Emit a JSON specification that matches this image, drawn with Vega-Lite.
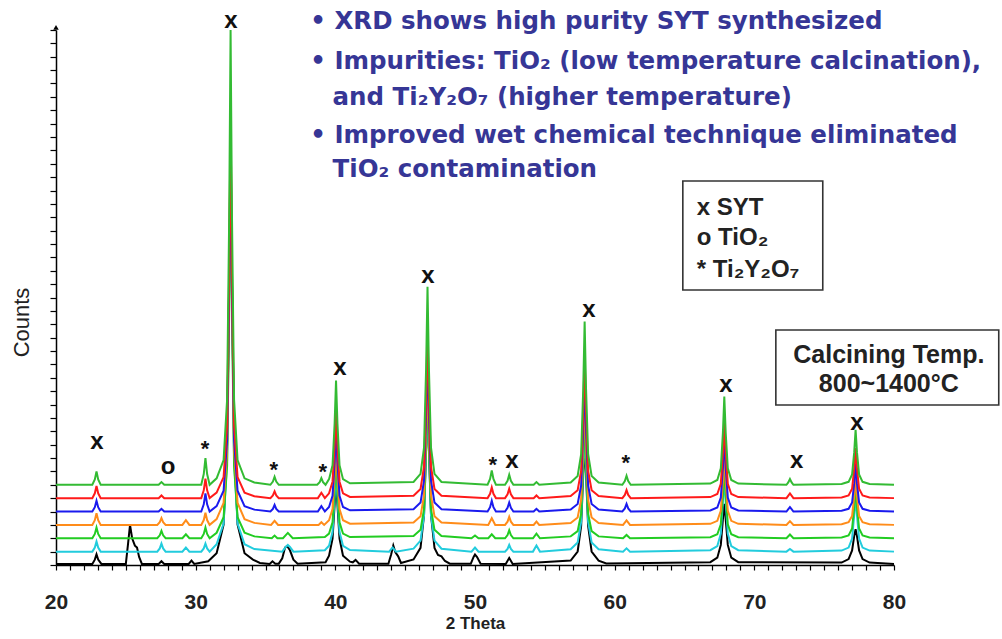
{
"$schema":"https://vega.github.io/schema/vega-lite/v6.json",
"width":838,"height":535,
"autosize":{"type":"none"},
"padding":{"left":56,"top":30,"right":108,"bottom":74},
"background":"white",
"config":{"view":{"stroke":null},"font":"Liberation Sans"},
"datasets":{
"xrd":[
{"T":800,"x":20,"y":0.08},{"T":800,"x":22.6,"y":0.08},{"T":800,"x":22.78,"y":0.4},{"T":800,"x":22.9,"y":0.8},{"T":800,"x":23.02,"y":0.4},{"T":800,"x":23.25,"y":0.08},
{"T":800,"x":25.0,"y":0.08},{"T":800,"x":25.15,"y":1.5},{"T":800,"x":25.3,"y":3.0},{"T":800,"x":25.45,"y":2.0},{"T":800,"x":25.65,"y":1.45},{"T":800,"x":25.8,"y":1.3},{"T":800,"x":25.95,"y":0.6},{"T":800,"x":26.15,"y":0.08},
{"T":800,"x":27.35,"y":0.08},{"T":800,"x":27.55,"y":0.28},{"T":800,"x":27.75,"y":0.08},
{"T":800,"x":29.5,"y":0.08},{"T":800,"x":29.7,"y":0.33},{"T":800,"x":29.9,"y":0.08},
{"T":800,"x":30.9,"y":0.28},{"T":800,"x":31.5,"y":0.88},{"T":800,"x":32.0,"y":3.02},{"T":800,"x":32.25,"y":9.05},{"T":800,"x":32.4,"y":21.18},{"T":800,"x":32.5,"y":28.48},{"T":800,"x":32.6,"y":21.18},{"T":800,"x":32.75,"y":9.05},{"T":800,"x":33.0,"y":3.02},{"T":800,"x":33.5,"y":0.88},{"T":800,"x":34.1,"y":0.4},{"T":800,"x":34.6,"y":0.15},
{"T":800,"x":35.3,"y":0.08},{"T":800,"x":35.5,"y":0.28},{"T":800,"x":35.7,"y":0.1},
{"T":800,"x":35.95,"y":0.1},{"T":800,"x":36.2,"y":0.5},{"T":800,"x":36.4,"y":1.3},{"T":800,"x":36.55,"y":1.43},{"T":800,"x":36.75,"y":1.1},{"T":800,"x":37.0,"y":0.4},{"T":800,"x":37.3,"y":0.1},
{"T":800,"x":39.3,"y":0.2},{"T":800,"x":39.55,"y":0.7},{"T":800,"x":39.8,"y":1.98},{"T":800,"x":39.95,"y":4.54},{"T":800,"x":40.05,"y":6.08},{"T":800,"x":40.15,"y":4.54},{"T":800,"x":40.3,"y":1.98},{"T":800,"x":40.55,"y":0.7},{"T":800,"x":41.05,"y":0.25},
{"T":800,"x":41.25,"y":0.2},{"T":800,"x":41.45,"y":0.38},{"T":800,"x":41.7,"y":0.1},
{"T":800,"x":43.8,"y":0.1},{"T":800,"x":44.0,"y":0.8},{"T":800,"x":44.15,"y":1.45},{"T":800,"x":44.3,"y":0.95},{"T":800,"x":44.5,"y":0.65},{"T":800,"x":44.7,"y":0.15},
{"T":800,"x":45.6,"y":0.41},{"T":800,"x":46.1,"y":1.28},{"T":800,"x":46.35,"y":3.75},{"T":800,"x":46.5,"y":8.7},{"T":800,"x":46.6,"y":11.68},{"T":800,"x":46.7,"y":8.7},{"T":800,"x":46.85,"y":3.75},{"T":800,"x":47.1,"y":1.28},{"T":800,"x":47.35,"y":0.75},{"T":800,"x":47.6,"y":0.65},{"T":800,"x":47.85,"y":0.3},{"T":800,"x":48.2,"y":0.1},
{"T":800,"x":49.7,"y":0.1},{"T":800,"x":49.9,"y":0.6},{"T":800,"x":50.0,"y":0.78},{"T":800,"x":50.15,"y":0.6},{"T":800,"x":50.4,"y":0.1},
{"T":800,"x":52.2,"y":0.08},{"T":800,"x":52.45,"y":0.53},{"T":800,"x":52.7,"y":0.08},
{"T":800,"x":56.85,"y":0.33},{"T":800,"x":57.35,"y":1.01},{"T":800,"x":57.6,"y":2.92},{"T":800,"x":57.75,"y":6.77},{"T":800,"x":57.85,"y":9.08},{"T":800,"x":57.95,"y":6.77},{"T":800,"x":58.1,"y":2.92},{"T":800,"x":58.35,"y":1.01},{"T":800,"x":58.85,"y":0.33},{"T":800,"x":59.4,"y":0.12},
{"T":800,"x":66.85,"y":0.21},{"T":800,"x":67.35,"y":0.55},{"T":800,"x":67.6,"y":1.5},{"T":800,"x":67.75,"y":3.42},{"T":800,"x":67.85,"y":4.58},{"T":800,"x":67.95,"y":3.42},{"T":800,"x":68.1,"y":1.5},{"T":800,"x":68.35,"y":0.55},{"T":800,"x":68.85,"y":0.21},
{"T":800,"x":76.25,"y":0.18},{"T":800,"x":76.75,"y":0.44},{"T":800,"x":77.0,"y":1.09},{"T":800,"x":77.15,"y":2.16},{"T":800,"x":77.25,"y":2.68},{"T":800,"x":77.35,"y":2.16},{"T":800,"x":77.5,"y":1.09},{"T":800,"x":77.75,"y":0.44},{"T":800,"x":78.25,"y":0.18},
{"T":800,"x":80,"y":0.08},

{"T":900,"x":20,"y":1},{"T":900,"x":22.6,"y":1},{"T":900,"x":22.78,"y":1.3},{"T":900,"x":22.9,"y":1.75},{"T":900,"x":23.02,"y":1.3},{"T":900,"x":23.2,"y":1},
{"T":900,"x":27.25,"y":1},{"T":900,"x":27.43,"y":1.24},{"T":900,"x":27.55,"y":1.6},{"T":900,"x":27.67,"y":1.24},{"T":900,"x":27.85,"y":1},
{"T":900,"x":29.05,"y":1},{"T":900,"x":29.3,"y":1.3},{"T":900,"x":29.55,"y":1},
{"T":900,"x":30.4,"y":1},{"T":900,"x":30.58,"y":1.24},{"T":900,"x":30.7,"y":1.6},{"T":900,"x":30.82,"y":1.24},{"T":900,"x":31.0,"y":1},
{"T":900,"x":31.5,"y":1.55},{"T":900,"x":32.0,"y":3.09},{"T":900,"x":32.25,"y":7.86},{"T":900,"x":32.4,"y":20.0},{"T":900,"x":32.5,"y":29.7},{"T":900,"x":32.6,"y":20.0},{"T":900,"x":32.75,"y":7.86},{"T":900,"x":33.0,"y":3.09},{"T":900,"x":33.5,"y":1.55},{"T":900,"x":34.2,"y":1.19},
{"T":900,"x":36.2,"y":1},{"T":900,"x":36.45,"y":1.35},{"T":900,"x":36.6,"y":1.5},{"T":900,"x":36.75,"y":1.35},{"T":900,"x":37.0,"y":1},
{"T":900,"x":39.25,"y":1.1},{"T":900,"x":39.55,"y":1.44},{"T":900,"x":39.8,"y":2.46},{"T":900,"x":39.95,"y":5.04},{"T":900,"x":40.05,"y":7.1},{"T":900,"x":40.15,"y":5.04},{"T":900,"x":40.3,"y":2.46},{"T":900,"x":40.55,"y":1.44},{"T":900,"x":41.05,"y":1.12},
{"T":900,"x":43.85,"y":1},{"T":900,"x":44.1,"y":1.3},{"T":900,"x":44.35,"y":1},
{"T":900,"x":45.6,"y":1.22},{"T":900,"x":46.1,"y":1.82},{"T":900,"x":46.35,"y":3.7},{"T":900,"x":46.5,"y":8.48},{"T":900,"x":46.6,"y":12.3},{"T":900,"x":46.7,"y":8.48},{"T":900,"x":46.85,"y":3.7},{"T":900,"x":47.1,"y":1.82},{"T":900,"x":47.6,"y":1.22},
{"T":900,"x":49.75,"y":1},{"T":900,"x":50.0,"y":1.3},{"T":900,"x":50.25,"y":1},
{"T":900,"x":52.15,"y":1},{"T":900,"x":52.33,"y":1.2},{"T":900,"x":52.45,"y":1.5},{"T":900,"x":52.57,"y":1.2},{"T":900,"x":52.75,"y":1},
{"T":900,"x":54.15,"y":1},{"T":900,"x":54.4,"y":1.45},{"T":900,"x":54.65,"y":1},
{"T":900,"x":56.85,"y":1.18},{"T":900,"x":57.35,"y":1.68},{"T":900,"x":57.6,"y":3.22},{"T":900,"x":57.75,"y":7.16},{"T":900,"x":57.85,"y":10.3},{"T":900,"x":57.95,"y":7.16},{"T":900,"x":58.1,"y":3.22},{"T":900,"x":58.35,"y":1.68},{"T":900,"x":58.85,"y":1.18},
{"T":900,"x":60.6,"y":1},{"T":900,"x":60.85,"y":1.25},{"T":900,"x":61.1,"y":1},
{"T":900,"x":66.85,"y":1.11},{"T":900,"x":67.35,"y":1.41},{"T":900,"x":67.6,"y":2.34},{"T":900,"x":67.75,"y":4.71},{"T":900,"x":67.85,"y":6.6},{"T":900,"x":67.95,"y":4.71},{"T":900,"x":68.1,"y":2.34},{"T":900,"x":68.35,"y":1.41},{"T":900,"x":68.85,"y":1.11},
{"T":900,"x":72.3,"y":1},{"T":900,"x":72.55,"y":1.2},{"T":900,"x":72.8,"y":1},
{"T":900,"x":76.25,"y":1.08},{"T":900,"x":76.75,"y":1.3},{"T":900,"x":77.0,"y":1.98},{"T":900,"x":77.15,"y":3.71},{"T":900,"x":77.25,"y":5.1},{"T":900,"x":77.35,"y":3.71},{"T":900,"x":77.5,"y":1.98},{"T":900,"x":77.75,"y":1.3},{"T":900,"x":78.25,"y":1.08},
{"T":900,"x":80,"y":1},

{"T":1000,"x":20,"y":2},{"T":1000,"x":22.6,"y":2},{"T":1000,"x":22.78,"y":2.32},{"T":1000,"x":22.9,"y":2.8},{"T":1000,"x":23.02,"y":2.32},{"T":1000,"x":23.2,"y":2},
{"T":1000,"x":27.25,"y":2},{"T":1000,"x":27.43,"y":2.22},{"T":1000,"x":27.55,"y":2.55},{"T":1000,"x":27.67,"y":2.22},{"T":1000,"x":27.85,"y":2},
{"T":1000,"x":29.05,"y":2},{"T":1000,"x":29.3,"y":2.3},{"T":1000,"x":29.55,"y":2},
{"T":1000,"x":30.4,"y":2},{"T":1000,"x":30.58,"y":2.32},{"T":1000,"x":30.7,"y":2.8},{"T":1000,"x":30.82,"y":2.32},{"T":1000,"x":31.0,"y":2},
{"T":1000,"x":31.5,"y":2.41},{"T":1000,"x":32.0,"y":3.57},{"T":1000,"x":32.25,"y":7.39},{"T":1000,"x":32.4,"y":18.99},{"T":1000,"x":32.5,"y":30.8},{"T":1000,"x":32.6,"y":18.99},{"T":1000,"x":32.75,"y":7.39},{"T":1000,"x":33.0,"y":3.57},{"T":1000,"x":33.5,"y":2.41},{"T":1000,"x":34.2,"y":2.14},
{"T":1000,"x":35.45,"y":2},{"T":1000,"x":35.65,"y":2.2},{"T":1000,"x":35.85,"y":2},
{"T":1000,"x":36.25,"y":2},{"T":1000,"x":36.6,"y":2.4},{"T":1000,"x":36.95,"y":2},
{"T":1000,"x":39.25,"y":2.1},{"T":1000,"x":39.55,"y":2.35},{"T":1000,"x":39.8,"y":3.2},{"T":1000,"x":39.95,"y":5.78},{"T":1000,"x":40.05,"y":8.4},{"T":1000,"x":40.15,"y":5.78},{"T":1000,"x":40.3,"y":3.2},{"T":1000,"x":40.55,"y":2.35},{"T":1000,"x":41.05,"y":2.09},
{"T":1000,"x":45.6,"y":2.16},{"T":1000,"x":46.1,"y":2.63},{"T":1000,"x":46.35,"y":4.17},{"T":1000,"x":46.5,"y":8.84},{"T":1000,"x":46.6,"y":13.6},{"T":1000,"x":46.7,"y":8.84},{"T":1000,"x":46.85,"y":4.17},{"T":1000,"x":47.1,"y":2.63},{"T":1000,"x":47.6,"y":2.16},
{"T":1000,"x":49.75,"y":2},{"T":1000,"x":50.0,"y":2.2},{"T":1000,"x":50.25,"y":2},
{"T":1000,"x":50.95,"y":2},{"T":1000,"x":51.2,"y":2.3},{"T":1000,"x":51.45,"y":2},
{"T":1000,"x":52.15,"y":2},{"T":1000,"x":52.33,"y":2.24},{"T":1000,"x":52.45,"y":2.6},{"T":1000,"x":52.57,"y":2.24},{"T":1000,"x":52.75,"y":2},
{"T":1000,"x":54.15,"y":2},{"T":1000,"x":54.4,"y":2.35},{"T":1000,"x":54.65,"y":2},
{"T":1000,"x":56.85,"y":2.14},{"T":1000,"x":57.35,"y":2.53},{"T":1000,"x":57.6,"y":3.83},{"T":1000,"x":57.75,"y":7.78},{"T":1000,"x":57.85,"y":11.8},{"T":1000,"x":57.95,"y":7.78},{"T":1000,"x":58.1,"y":3.83},{"T":1000,"x":58.35,"y":2.53},{"T":1000,"x":58.85,"y":2.14},
{"T":1000,"x":60.6,"y":2},{"T":1000,"x":60.85,"y":2.25},{"T":1000,"x":61.1,"y":2},
{"T":1000,"x":66.85,"y":2.08},{"T":1000,"x":67.35,"y":2.3},{"T":1000,"x":67.6,"y":3.05},{"T":1000,"x":67.75,"y":5.3},{"T":1000,"x":67.85,"y":7.6},{"T":1000,"x":67.95,"y":5.3},{"T":1000,"x":68.1,"y":3.05},{"T":1000,"x":68.35,"y":2.3},{"T":1000,"x":68.85,"y":2.08},
{"T":1000,"x":72.3,"y":2},{"T":1000,"x":72.55,"y":2.28},{"T":1000,"x":72.8,"y":2},
{"T":1000,"x":76.25,"y":2.06},{"T":1000,"x":76.75,"y":2.21},{"T":1000,"x":77.0,"y":2.73},{"T":1000,"x":77.15,"y":4.3},{"T":1000,"x":77.25,"y":5.9},{"T":1000,"x":77.35,"y":4.3},{"T":1000,"x":77.5,"y":2.73},{"T":1000,"x":77.75,"y":2.21},{"T":1000,"x":78.25,"y":2.06},
{"T":1000,"x":80,"y":2},

{"T":1100,"x":20,"y":3},{"T":1100,"x":22.6,"y":3},{"T":1100,"x":22.78,"y":3.35},{"T":1100,"x":22.9,"y":3.87},{"T":1100,"x":23.02,"y":3.35},{"T":1100,"x":23.2,"y":3},
{"T":1100,"x":27.25,"y":3},{"T":1100,"x":27.43,"y":3.2},{"T":1100,"x":27.55,"y":3.5},{"T":1100,"x":27.67,"y":3.2},{"T":1100,"x":27.85,"y":3},
{"T":1100,"x":29.05,"y":3},{"T":1100,"x":29.3,"y":3.35},{"T":1100,"x":29.55,"y":3},
{"T":1100,"x":30.4,"y":3},{"T":1100,"x":30.58,"y":3.36},{"T":1100,"x":30.7,"y":3.9},{"T":1100,"x":30.82,"y":3.36},{"T":1100,"x":31.0,"y":3},
{"T":1100,"x":31.5,"y":3.43},{"T":1100,"x":32.0,"y":4.64},{"T":1100,"x":32.25,"y":8.63},{"T":1100,"x":32.4,"y":20.76},{"T":1100,"x":32.5,"y":33.1},{"T":1100,"x":32.6,"y":20.76},{"T":1100,"x":32.75,"y":8.63},{"T":1100,"x":33.0,"y":4.64},{"T":1100,"x":33.5,"y":3.43},{"T":1100,"x":34.2,"y":3.15},
{"T":1100,"x":35.4,"y":3},{"T":1100,"x":35.65,"y":3.3},{"T":1100,"x":35.9,"y":3},
{"T":1100,"x":38.8,"y":3},{"T":1100,"x":39.0,"y":3.2},{"T":1100,"x":39.2,"y":3},
{"T":1100,"x":39.55,"y":3.35},{"T":1100,"x":39.8,"y":4.19},{"T":1100,"x":39.95,"y":6.75},{"T":1100,"x":40.05,"y":9.35},{"T":1100,"x":40.15,"y":6.75},{"T":1100,"x":40.3,"y":4.19},{"T":1100,"x":40.55,"y":3.35},{"T":1100,"x":41.05,"y":3.09},
{"T":1100,"x":45.6,"y":3.17},{"T":1100,"x":46.1,"y":3.64},{"T":1100,"x":46.35,"y":5.21},{"T":1100,"x":46.5,"y":9.96},{"T":1100,"x":46.6,"y":14.8},{"T":1100,"x":46.7,"y":9.96},{"T":1100,"x":46.85,"y":5.21},{"T":1100,"x":47.1,"y":3.64},{"T":1100,"x":47.6,"y":3.17},
{"T":1100,"x":50.95,"y":3},{"T":1100,"x":51.2,"y":3.5},{"T":1100,"x":51.45,"y":3},
{"T":1100,"x":52.15,"y":3},{"T":1100,"x":52.33,"y":3.24},{"T":1100,"x":52.45,"y":3.6},{"T":1100,"x":52.57,"y":3.24},{"T":1100,"x":52.75,"y":3},
{"T":1100,"x":54.2,"y":3},{"T":1100,"x":54.4,"y":3.25},{"T":1100,"x":54.6,"y":3},
{"T":1100,"x":56.85,"y":3.14},{"T":1100,"x":57.35,"y":3.55},{"T":1100,"x":57.6,"y":4.89},{"T":1100,"x":57.75,"y":8.96},{"T":1100,"x":57.85,"y":13.1},{"T":1100,"x":57.95,"y":8.96},{"T":1100,"x":58.1,"y":4.89},{"T":1100,"x":58.35,"y":3.55},{"T":1100,"x":58.85,"y":3.14},
{"T":1100,"x":60.6,"y":3},{"T":1100,"x":60.85,"y":3.33},{"T":1100,"x":61.1,"y":3},
{"T":1100,"x":66.85,"y":3.08},{"T":1100,"x":67.35,"y":3.3},{"T":1100,"x":67.6,"y":4.05},{"T":1100,"x":67.75,"y":6.3},{"T":1100,"x":67.85,"y":8.6},{"T":1100,"x":67.95,"y":6.3},{"T":1100,"x":68.1,"y":4.05},{"T":1100,"x":68.35,"y":3.3},{"T":1100,"x":68.85,"y":3.08},
{"T":1100,"x":72.3,"y":3},{"T":1100,"x":72.55,"y":3.28},{"T":1100,"x":72.8,"y":3},
{"T":1100,"x":76.25,"y":3.05},{"T":1100,"x":76.75,"y":3.2},{"T":1100,"x":77.0,"y":3.67},{"T":1100,"x":77.15,"y":5.12},{"T":1100,"x":77.25,"y":6.6},{"T":1100,"x":77.35,"y":5.12},{"T":1100,"x":77.5,"y":3.67},{"T":1100,"x":77.75,"y":3.2},{"T":1100,"x":78.25,"y":3.05},
{"T":1100,"x":80,"y":3},

{"T":1200,"x":20,"y":4},{"T":1200,"x":22.6,"y":4},{"T":1200,"x":22.78,"y":4.32},{"T":1200,"x":22.9,"y":4.8},{"T":1200,"x":23.02,"y":4.32},{"T":1200,"x":23.2,"y":4},
{"T":1200,"x":27.35,"y":4},{"T":1200,"x":27.55,"y":4.2},{"T":1200,"x":27.75,"y":4},
{"T":1200,"x":30.4,"y":4},{"T":1200,"x":30.58,"y":4.54},{"T":1200,"x":30.7,"y":5.35},{"T":1200,"x":30.82,"y":4.54},{"T":1200,"x":31.0,"y":4},
{"T":1200,"x":31.5,"y":4.4},{"T":1200,"x":32.0,"y":5.55},{"T":1200,"x":32.25,"y":9.33},{"T":1200,"x":32.4,"y":20.82},{"T":1200,"x":32.5,"y":32.5},{"T":1200,"x":32.6,"y":20.82},{"T":1200,"x":32.75,"y":9.33},{"T":1200,"x":33.0,"y":5.55},{"T":1200,"x":33.5,"y":4.4},{"T":1200,"x":34.2,"y":4.14},
{"T":1200,"x":35.35,"y":4},{"T":1200,"x":35.53,"y":4.2},{"T":1200,"x":35.65,"y":4.5},{"T":1200,"x":35.77,"y":4.2},{"T":1200,"x":35.95,"y":4},
{"T":1200,"x":38.75,"y":4},{"T":1200,"x":39.0,"y":4.4},{"T":1200,"x":39.25,"y":4},
{"T":1200,"x":39.55,"y":4.34},{"T":1200,"x":39.8,"y":5.18},{"T":1200,"x":39.95,"y":7.72},{"T":1200,"x":40.05,"y":10.3},{"T":1200,"x":40.15,"y":7.72},{"T":1200,"x":40.3,"y":5.18},{"T":1200,"x":40.55,"y":4.34},{"T":1200,"x":41.05,"y":4.09},
{"T":1200,"x":45.6,"y":4.17},{"T":1200,"x":46.1,"y":4.67},{"T":1200,"x":46.35,"y":6.3},{"T":1200,"x":46.5,"y":11.26},{"T":1200,"x":46.6,"y":16.3},{"T":1200,"x":46.7,"y":11.26},{"T":1200,"x":46.85,"y":6.3},{"T":1200,"x":47.1,"y":4.67},{"T":1200,"x":47.6,"y":4.17},
{"T":1200,"x":50.9,"y":4},{"T":1200,"x":51.08,"y":4.32},{"T":1200,"x":51.2,"y":4.8},{"T":1200,"x":51.32,"y":4.32},{"T":1200,"x":51.5,"y":4},
{"T":1200,"x":52.15,"y":4},{"T":1200,"x":52.33,"y":4.27},{"T":1200,"x":52.45,"y":4.67},{"T":1200,"x":52.57,"y":4.27},{"T":1200,"x":52.75,"y":4},
{"T":1200,"x":54.2,"y":4},{"T":1200,"x":54.4,"y":4.2},{"T":1200,"x":54.6,"y":4},
{"T":1200,"x":56.85,"y":4.15},{"T":1200,"x":57.35,"y":4.56},{"T":1200,"x":57.6,"y":5.94},{"T":1200,"x":57.75,"y":10.11},{"T":1200,"x":57.85,"y":14.35},{"T":1200,"x":57.95,"y":10.11},{"T":1200,"x":58.1,"y":5.94},{"T":1200,"x":58.35,"y":4.56},{"T":1200,"x":58.85,"y":4.15},
{"T":1200,"x":60.55,"y":4},{"T":1200,"x":60.73,"y":4.23},{"T":1200,"x":60.85,"y":4.57},{"T":1200,"x":60.97,"y":4.23},{"T":1200,"x":61.15,"y":4},
{"T":1200,"x":66.85,"y":4.08},{"T":1200,"x":67.35,"y":4.3},{"T":1200,"x":67.6,"y":5.05},{"T":1200,"x":67.75,"y":7.3},{"T":1200,"x":67.85,"y":9.6},{"T":1200,"x":67.95,"y":7.3},{"T":1200,"x":68.1,"y":5.05},{"T":1200,"x":68.35,"y":4.3},{"T":1200,"x":68.85,"y":4.08},
{"T":1200,"x":72.3,"y":4},{"T":1200,"x":72.55,"y":4.33},{"T":1200,"x":72.8,"y":4},
{"T":1200,"x":76.25,"y":4.05},{"T":1200,"x":76.75,"y":4.2},{"T":1200,"x":77.0,"y":4.67},{"T":1200,"x":77.15,"y":6.12},{"T":1200,"x":77.25,"y":7.6},{"T":1200,"x":77.35,"y":6.12},{"T":1200,"x":77.5,"y":4.67},{"T":1200,"x":77.75,"y":4.2},{"T":1200,"x":78.25,"y":4.05},
{"T":1200,"x":80,"y":4},

{"T":1300,"x":20,"y":5},{"T":1300,"x":22.6,"y":5},{"T":1300,"x":22.78,"y":5.36},{"T":1300,"x":22.9,"y":5.9},{"T":1300,"x":23.02,"y":5.36},{"T":1300,"x":23.2,"y":5},
{"T":1300,"x":27.35,"y":5},{"T":1300,"x":27.55,"y":5.2},{"T":1300,"x":27.75,"y":5},
{"T":1300,"x":30.4,"y":5},{"T":1300,"x":30.58,"y":5.58},{"T":1300,"x":30.7,"y":6.45},{"T":1300,"x":30.82,"y":5.58},{"T":1300,"x":31.0,"y":5},
{"T":1300,"x":31.5,"y":5.41},{"T":1300,"x":32.0,"y":6.57},{"T":1300,"x":32.25,"y":10.39},{"T":1300,"x":32.4,"y":21.99},{"T":1300,"x":32.5,"y":33.8},{"T":1300,"x":32.6,"y":21.99},{"T":1300,"x":32.75,"y":10.39},{"T":1300,"x":33.0,"y":6.57},{"T":1300,"x":33.5,"y":5.41},{"T":1300,"x":34.2,"y":5.14},
{"T":1300,"x":35.35,"y":5},{"T":1300,"x":35.53,"y":5.2},{"T":1300,"x":35.65,"y":5.5},{"T":1300,"x":35.77,"y":5.2},{"T":1300,"x":35.95,"y":5},
{"T":1300,"x":38.75,"y":5},{"T":1300,"x":39.0,"y":5.4},{"T":1300,"x":39.25,"y":5},
{"T":1300,"x":39.55,"y":5.36},{"T":1300,"x":39.8,"y":6.23},{"T":1300,"x":39.95,"y":8.89},{"T":1300,"x":40.05,"y":11.6},{"T":1300,"x":40.15,"y":8.89},{"T":1300,"x":40.3,"y":6.23},{"T":1300,"x":40.55,"y":5.36},{"T":1300,"x":41.05,"y":5.09},
{"T":1300,"x":45.6,"y":5.18},{"T":1300,"x":46.1,"y":5.69},{"T":1300,"x":46.35,"y":7.36},{"T":1300,"x":46.5,"y":12.43},{"T":1300,"x":46.6,"y":17.6},{"T":1300,"x":46.7,"y":12.43},{"T":1300,"x":46.85,"y":7.36},{"T":1300,"x":47.1,"y":5.69},{"T":1300,"x":47.6,"y":5.18},
{"T":1300,"x":50.9,"y":5},{"T":1300,"x":51.08,"y":5.32},{"T":1300,"x":51.2,"y":5.8},{"T":1300,"x":51.32,"y":5.32},{"T":1300,"x":51.5,"y":5},
{"T":1300,"x":52.15,"y":5},{"T":1300,"x":52.33,"y":5.28},{"T":1300,"x":52.45,"y":5.7},{"T":1300,"x":52.57,"y":5.28},{"T":1300,"x":52.75,"y":5},
{"T":1300,"x":54.2,"y":5},{"T":1300,"x":54.4,"y":5.2},{"T":1300,"x":54.6,"y":5},
{"T":1300,"x":56.85,"y":5.15},{"T":1300,"x":57.35,"y":5.59},{"T":1300,"x":57.6,"y":7.03},{"T":1300,"x":57.75,"y":11.4},{"T":1300,"x":57.85,"y":15.85},{"T":1300,"x":57.95,"y":11.4},{"T":1300,"x":58.1,"y":7.03},{"T":1300,"x":58.35,"y":5.59},{"T":1300,"x":58.85,"y":5.15},
{"T":1300,"x":60.55,"y":5},{"T":1300,"x":60.73,"y":5.24},{"T":1300,"x":60.85,"y":5.6},{"T":1300,"x":60.97,"y":5.24},{"T":1300,"x":61.15,"y":5},
{"T":1300,"x":66.85,"y":5.08},{"T":1300,"x":67.35,"y":5.31},{"T":1300,"x":67.6,"y":6.07},{"T":1300,"x":67.75,"y":8.36},{"T":1300,"x":67.85,"y":10.7},{"T":1300,"x":67.95,"y":8.36},{"T":1300,"x":68.1,"y":6.07},{"T":1300,"x":68.35,"y":5.31},{"T":1300,"x":68.85,"y":5.08},
{"T":1300,"x":72.3,"y":5},{"T":1300,"x":72.55,"y":5.35},{"T":1300,"x":72.8,"y":5},
{"T":1300,"x":76.25,"y":5.05},{"T":1300,"x":76.75,"y":5.2},{"T":1300,"x":77.0,"y":5.7},{"T":1300,"x":77.15,"y":7.21},{"T":1300,"x":77.25,"y":8.75},{"T":1300,"x":77.35,"y":7.21},{"T":1300,"x":77.5,"y":5.7},{"T":1300,"x":77.75,"y":5.2},{"T":1300,"x":78.25,"y":5.05},
{"T":1300,"x":80,"y":5},

{"T":1400,"x":20,"y":6},{"T":1400,"x":22.6,"y":6},{"T":1400,"x":22.78,"y":6.4},{"T":1400,"x":22.9,"y":7.0},{"T":1400,"x":23.02,"y":6.4},{"T":1400,"x":23.2,"y":6},
{"T":1400,"x":27.35,"y":6},{"T":1400,"x":27.55,"y":6.2},{"T":1400,"x":27.75,"y":6},
{"T":1400,"x":30.4,"y":6},{"T":1400,"x":30.58,"y":6.8},{"T":1400,"x":30.7,"y":8.0},{"T":1400,"x":30.82,"y":6.8},{"T":1400,"x":31.0,"y":6},
{"T":1400,"x":31.5,"y":6.48},{"T":1400,"x":32.0,"y":7.85},{"T":1400,"x":32.25,"y":12.36},{"T":1400,"x":32.4,"y":26.06},{"T":1400,"x":32.5,"y":40},{"T":1400,"x":32.6,"y":26.06},{"T":1400,"x":32.75,"y":12.36},{"T":1400,"x":33.0,"y":7.85},{"T":1400,"x":33.5,"y":6.48},{"T":1400,"x":34.2,"y":6.17},
{"T":1400,"x":35.35,"y":6},{"T":1400,"x":35.53,"y":6.24},{"T":1400,"x":35.65,"y":6.6},{"T":1400,"x":35.77,"y":6.24},{"T":1400,"x":35.95,"y":6},
{"T":1400,"x":38.7,"y":6},{"T":1400,"x":38.88,"y":6.2},{"T":1400,"x":39.0,"y":6.5},{"T":1400,"x":39.12,"y":6.2},{"T":1400,"x":39.3,"y":6},
{"T":1400,"x":39.55,"y":6.42},{"T":1400,"x":39.8,"y":7.46},{"T":1400,"x":39.95,"y":10.6},{"T":1400,"x":40.05,"y":13.8},{"T":1400,"x":40.15,"y":10.6},{"T":1400,"x":40.3,"y":7.46},{"T":1400,"x":40.55,"y":6.42},{"T":1400,"x":41.05,"y":6.11},
{"T":1400,"x":45.6,"y":6.21},{"T":1400,"x":46.1,"y":6.81},{"T":1400,"x":46.35,"y":8.77},{"T":1400,"x":46.5,"y":14.73},{"T":1400,"x":46.6,"y":20.8},{"T":1400,"x":46.7,"y":14.73},{"T":1400,"x":46.85,"y":8.77},{"T":1400,"x":47.1,"y":6.81},{"T":1400,"x":47.6,"y":6.21},
{"T":1400,"x":50.9,"y":6},{"T":1400,"x":51.08,"y":6.43},{"T":1400,"x":51.2,"y":7.07},{"T":1400,"x":51.32,"y":6.43},{"T":1400,"x":51.5,"y":6},
{"T":1400,"x":52.15,"y":6},{"T":1400,"x":52.33,"y":6.3},{"T":1400,"x":52.45,"y":6.75},{"T":1400,"x":52.57,"y":6.3},{"T":1400,"x":52.75,"y":6},
{"T":1400,"x":54.2,"y":6},{"T":1400,"x":54.4,"y":6.2},{"T":1400,"x":54.6,"y":6},
{"T":1400,"x":56.85,"y":6.17},{"T":1400,"x":57.35,"y":6.66},{"T":1400,"x":57.6,"y":8.28},{"T":1400,"x":57.75,"y":13.2},{"T":1400,"x":57.85,"y":18.2},{"T":1400,"x":57.95,"y":13.2},{"T":1400,"x":58.1,"y":8.28},{"T":1400,"x":58.35,"y":6.66},{"T":1400,"x":58.85,"y":6.17},
{"T":1400,"x":60.55,"y":6},{"T":1400,"x":60.73,"y":6.27},{"T":1400,"x":60.85,"y":6.67},{"T":1400,"x":60.97,"y":6.27},{"T":1400,"x":61.15,"y":6},
{"T":1400,"x":66.85,"y":6.09},{"T":1400,"x":67.35,"y":6.36},{"T":1400,"x":67.6,"y":7.23},{"T":1400,"x":67.75,"y":9.89},{"T":1400,"x":67.85,"y":12.6},{"T":1400,"x":67.95,"y":9.89},{"T":1400,"x":68.1,"y":7.23},{"T":1400,"x":68.35,"y":6.36},{"T":1400,"x":68.85,"y":6.09},
{"T":1400,"x":72.3,"y":6},{"T":1400,"x":72.43,"y":6.17},{"T":1400,"x":72.55,"y":6.43},{"T":1400,"x":72.67,"y":6.17},{"T":1400,"x":72.8,"y":6},
{"T":1400,"x":76.25,"y":6.06},{"T":1400,"x":76.75,"y":6.22},{"T":1400,"x":77.0,"y":6.77},{"T":1400,"x":77.15,"y":8.42},{"T":1400,"x":77.25,"y":10.1},{"T":1400,"x":77.35,"y":8.42},{"T":1400,"x":77.5,"y":6.77},{"T":1400,"x":77.75,"y":6.22},{"T":1400,"x":78.25,"y":6.06},
{"T":1400,"x":80,"y":6}
],
"ann":[
{"x":22.93,"y":9.2,"t":"x"},{"x":28.02,"y":7.3,"t":"o"},{"x":30.67,"y":8.71,"t":"*"},{"x":32.53,"y":40.7,"t":"x"},
{"x":35.6,"y":7.07,"t":"*"},{"x":39.11,"y":6.92,"t":"*"},{"x":40.33,"y":14.7,"t":"x"},{"x":46.63,"y":21.6,"t":"x"},
{"x":51.28,"y":7.51,"t":"*"},{"x":52.64,"y":7.75,"t":"x"},{"x":58.15,"y":19.1,"t":"x"},{"x":60.8,"y":7.59,"t":"*"},
{"x":67.96,"y":13.45,"t":"x"},{"x":73.04,"y":7.75,"t":"x"},{"x":77.34,"y":10.6,"t":"x"}
],
"notes":[
{"x":38.2,"y":40.6,"t":"• XRD shows high purity SYT synthesized"},
{"x":38.2,"y":37.6,"t":"• Impurities: TiO₂ (low temperature calcination),"},
{"x":39.8,"y":34.9,"t":"and Ti₂Y₂O₇ (higher temperature)"},
{"x":38.2,"y":32.07,"t":"• Improved wet chemical technique eliminated"},
{"x":39.8,"y":29.5,"t":"TiO₂ contamination"}
],
"boxes":[
{"x":64.88,"x2":74.9,"y":28.71,"y2":20.56},
{"x":71.54,"x2":87.5,"y":17.57,"y2":11.96}
],
"legtext":[
{"x":65.88,"y":26.69,"t":"x SYT"},{"x":65.88,"y":24.45,"t":"o TiO₂"},{"x":65.88,"y":22.06,"t":"*  Ti₂Y₂O₇"}
],
"calc":[
{"x":79.63,"y":15.7,"t":"Calcining Temp."},{"x":79.63,"y":13.53,"t":"800~1400°C"}
],
"arrow":[{"x":20,"y":40.2}]
},
"encoding":{
 "x":{"field":"x","type":"quantitative","scale":{"domain":[20,80],"nice":false,"zero":false},
  "axis":{"values":[20,21,22,23,24,25,26,27,28,29,30,31,32,33,34,35,36,37,38,39,40,41,42,43,44,45,46,47,48,49,50,51,52,53,54,55,56,57,58,59,60,61,62,63,64,65,66,67,68,69,70,71,72,73,74,75,76,77,78,79,80],
   "labelExpr":"datum.value % 10 === 0 ? datum.label : ''",
   "tickSize":5,
   "grid":false,"domainColor":"#000","domainWidth":1.5,"tickColor":"#000","tickWidth":1.2,
   "labelFont":"Liberation Sans","labelFontWeight":"bold","labelFontSize":21,"labelColor":"#222","labelPadding":21,"labelOverlap":false,"labelFlush":false,
   "title":"2 Theta","titleFont":"Liberation Sans","titleFontWeight":"bold","titleFontSize":17,"titleColor":"#222","titlePadding":3}},
 "y":{"field":"y","type":"quantitative","scale":{"domain":[0,40],"nice":false},
  "axis":{"values":[0,1,2,3,4,5,6,7,8,9,10,11,12,13,14,15,16,17,18,19,20,21,22,23,24,25,26,27,28,29,30,31,32,33,34,35,36,37,38,39,40],
   "labels":false,
   "tickSize":6,
   "grid":false,"domainColor":"#000","domainWidth":1.5,"tickColor":"#000","tickWidth":1.2,
   "title":"Counts","titleFont":"Liberation Sans","titleFontWeight":"normal","titleFontSize":22,"titleColor":"#222","titlePadding":16,"titleY":292}}
},
"layer":[
{"data":{"name":"xrd"},
 "mark":{"type":"line","strokeWidth":2},
 "encoding":{
  "color":{"field":"T","type":"nominal","legend":null,
   "scale":{"domain":[800,900,1000,1100,1200,1300,1400],"range":["#000000","#22ccdd","#22cc22","#ff8c1a","#1a1aee","#ff1a1a","#33bb33"]}}
 }},
{"data":{"name":"arrow"},"mark":{"type":"point","shape":"triangle-up","filled":true,"color":"#000","size":30,"opacity":1}},
{"data":{"name":"ann"},"transform":[{"filter":"datum.t !== '*'"}],
 "mark":{"type":"text","font":"Liberation Sans","fontWeight":"bold","fontSize":24,"color":"#111","baseline":"middle","align":"center"},
 "encoding":{"text":{"field":"t"}}},
{"data":{"name":"ann"},"transform":[{"filter":"datum.t === '*'"}],
 "mark":{"type":"text","font":"Liberation Sans","fontWeight":"bold","fontSize":22,"color":"#111","baseline":"middle","align":"center"},
 "encoding":{"text":{"field":"t"}}},
{"data":{"name":"notes"},
 "mark":{"type":"text","font":"DejaVu Sans","fontWeight":"bold","fontSize":24.5,"color":"#363696","baseline":"middle","align":"left"},
 "encoding":{"text":{"field":"t"}}},
{"data":{"name":"boxes"},
 "mark":{"type":"rect","fill":"#fff","stroke":"#333","strokeWidth":1.6},
 "encoding":{"x2":{"field":"x2"},"y2":{"field":"y2"}}},
{"data":{"name":"legtext"},
 "mark":{"type":"text","font":"Liberation Sans","fontWeight":"bold","fontSize":24,"color":"#222","baseline":"middle","align":"left"},
 "encoding":{"text":{"field":"t"}}},
{"data":{"name":"calc"},
 "mark":{"type":"text","font":"Liberation Sans","fontWeight":"bold","fontSize":25,"color":"#222","baseline":"middle","align":"center"},
 "encoding":{"text":{"field":"t"}}}
]
}
